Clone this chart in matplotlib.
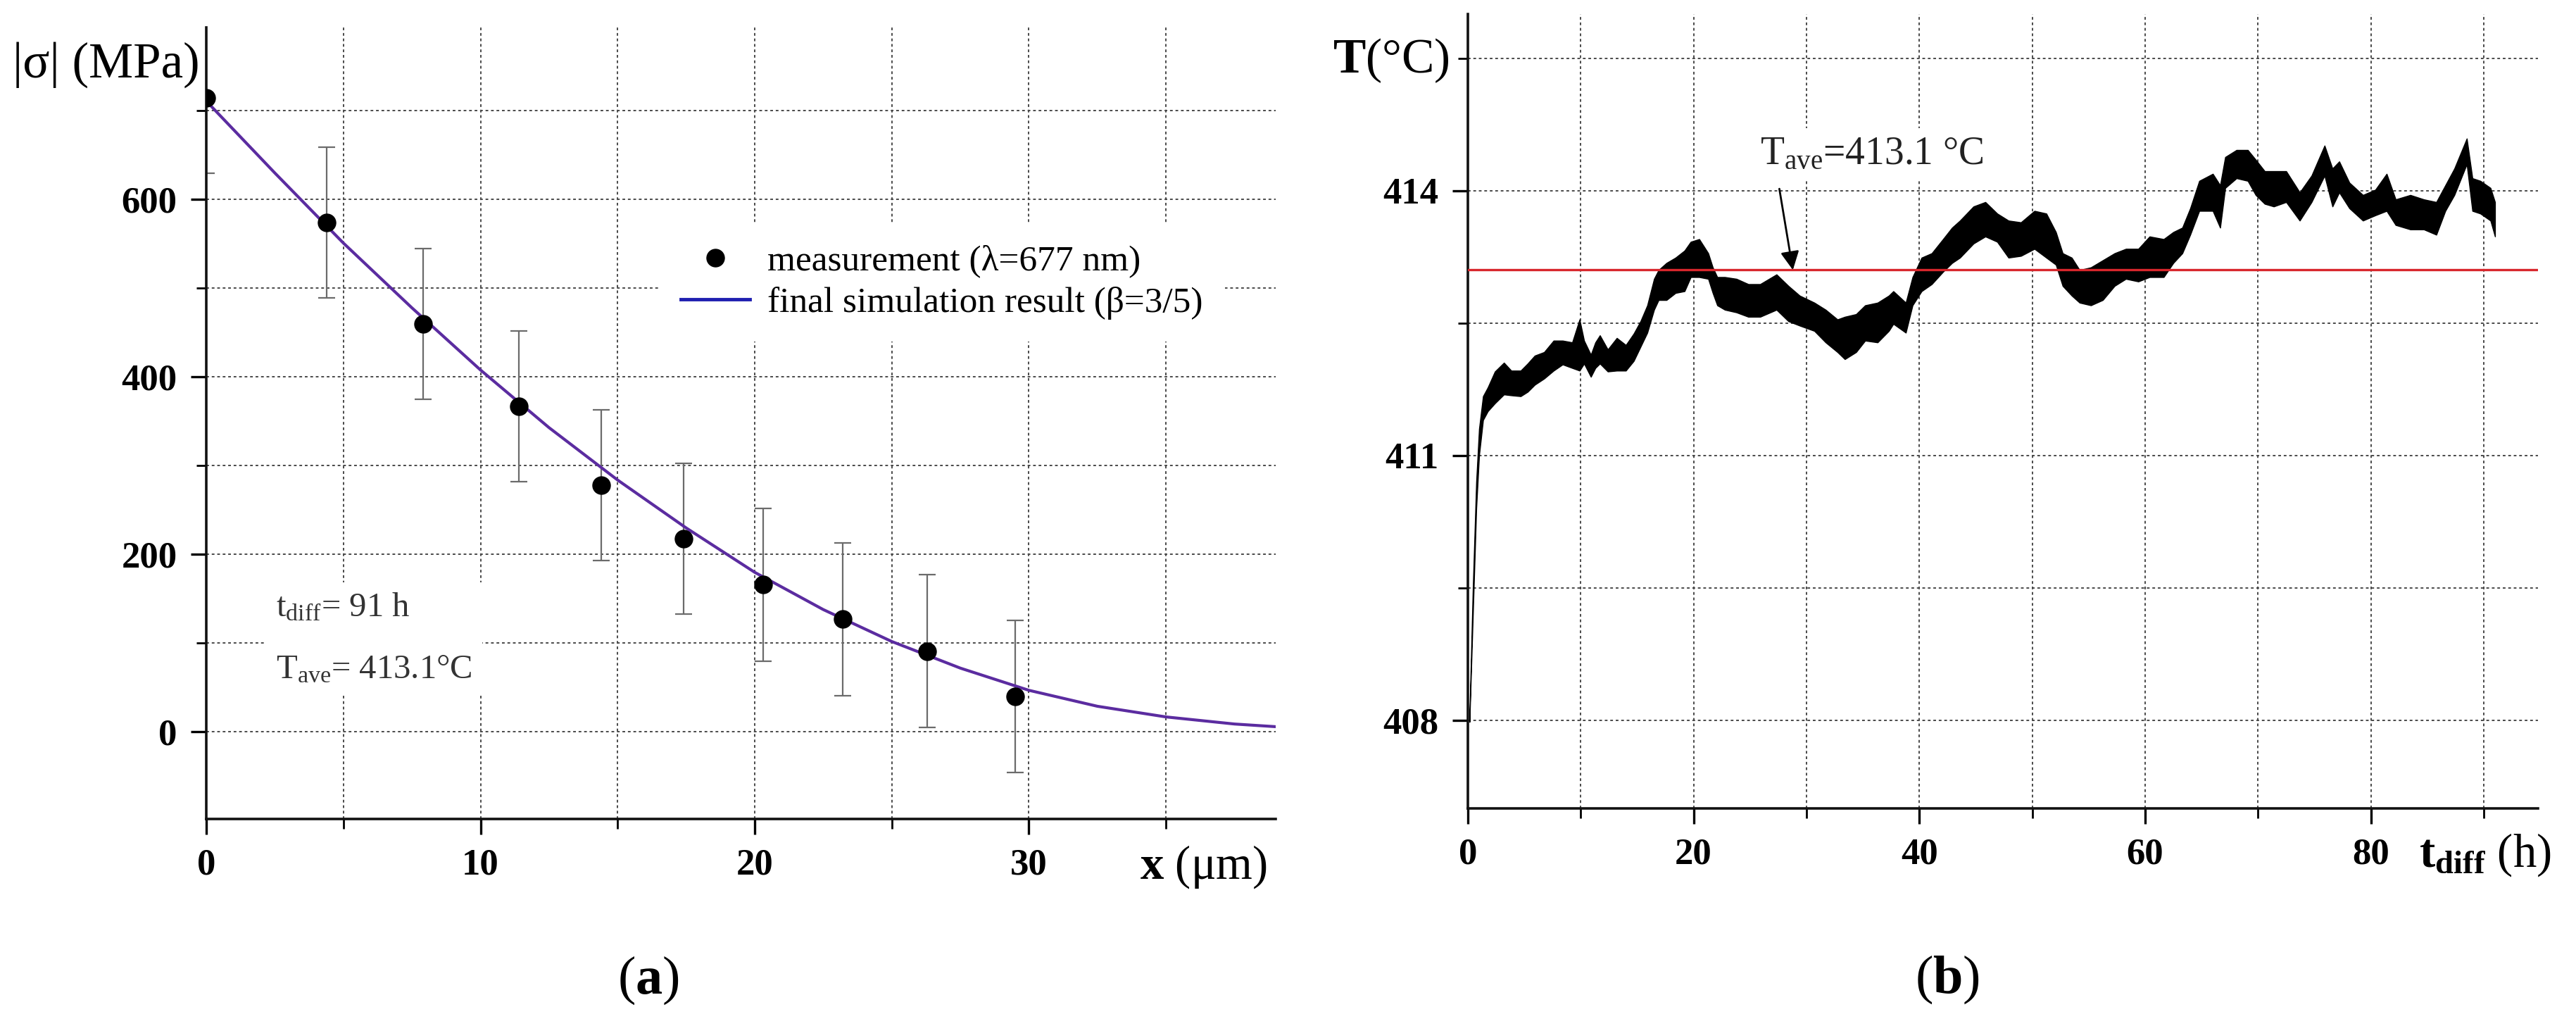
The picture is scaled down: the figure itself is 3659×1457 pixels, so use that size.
import matplotlib

matplotlib.use("Agg")
import matplotlib.pyplot as plt
from matplotlib.lines import Line2D
from matplotlib.ticker import MultipleLocator

# ---- panel (a): residual stress depth profile ----
depth_um = [0, 4.4, 7.9, 11.4, 14.4, 17.4, 20.3, 23.2, 26.3, 29.5]
stress_mpa = [715, 574, 460, 367, 278, 218, 166, 127, 91, 40]
stress_err = [85, 85, 85, 85, 85, 85, 86, 86, 86, 86]

sim_depth_um = [0, 2.5, 5, 7.5, 10, 12.5, 15, 17.5, 20, 22.5, 25, 27.5, 30,
                32.5, 35, 37.5, 39]
sim_stress_mpa = [711, 630, 551, 478, 408, 343, 284, 230, 180, 138, 102, 72,
                  47, 29, 17, 9, 6]

# ---- panel (b): furnace temperature record (upper / lower envelope) ----
time_h = [0.15, 0.45, 0.75, 1.0, 1.35, 1.77, 2.4, 3.2, 3.85, 4.68, 5.3, 5.93,
          6.76, 7.6, 8.4, 9.25, 9.9, 10.3, 10.9, 11.3, 11.7, 12.4, 13.2, 14.0,
          14.7, 15.3, 15.9, 16.5, 16.9, 17.6, 18.4, 19.2, 19.75, 20.5, 21.3,
          21.7, 22.1, 22.77, 23.8, 24.85, 25.9, 27.35, 28.4, 29.4, 30.7, 31.7,
          32.75, 33.4, 34.4, 35.2, 36.3, 37.3, 37.7, 38.8, 39.4, 40.2, 41.1,
          42.1, 42.9, 43.6, 44.8, 45.85, 46.9, 47.9, 49.0, 50.2, 51.25, 52.1,
          52.7, 53.5, 54.2, 55.2, 56.25, 57.3, 58.3, 59.4, 60.4, 61.65, 62.5,
          63.3, 64.0, 64.8, 66.0, 66.65, 67.1, 68.1, 69.1, 69.8, 70.6, 71.4,
          72.5, 73.7, 74.75, 75.9, 76.6, 77.2, 78.1, 79.3, 80.4, 81.4, 82.2,
          83.5, 84.7, 85.8, 86.6, 87.4, 88.5, 89.0, 89.7, 90.6, 91.0]
temp_hi = [408.05, 409.5, 410.7, 411.3, 411.67, 411.77, 411.95, 412.05, 411.96,
           411.96, 412.04, 412.13, 412.17, 412.30, 412.30, 412.28, 412.54,
           412.30, 412.14, 412.28, 412.36, 412.20, 412.33, 412.25, 412.38,
           412.52, 412.70, 413.00, 413.10, 413.18, 413.24, 413.32, 413.42,
           413.45, 413.29, 413.13, 413.02, 413.02, 413.00, 412.94, 412.94,
           413.05, 412.92, 412.81, 412.73, 412.65, 412.54, 412.57, 412.60,
           412.70, 412.73, 412.81, 412.86, 412.73, 413.02, 413.24, 413.29,
           413.45, 413.58, 413.66, 413.82, 413.87, 413.74, 413.66, 413.64,
           413.77, 413.74, 413.53, 413.29, 413.24, 413.10, 413.13, 413.21,
           413.29, 413.34, 413.34, 413.48, 413.45, 413.53, 413.58, 413.80,
           414.11, 414.19, 414.06, 414.38, 414.46, 414.46, 414.35, 414.22,
           414.22, 414.22, 413.98, 414.17, 414.51, 414.25, 414.33, 414.09,
           413.95, 414.01, 414.19, 413.90, 413.95, 413.90, 413.87, 414.06,
           414.25, 414.59, 414.14, 414.11, 414.03, 413.87]
temp_lo = [407.98, 409.2, 410.4, 411.0, 411.40, 411.50, 411.59, 411.69, 411.68,
           411.67, 411.72, 411.80, 411.87, 411.96, 412.03, 411.99, 411.96,
           412.04, 411.89, 411.99, 412.04, 411.95, 411.96, 411.96, 412.07,
           412.23, 412.39, 412.65, 412.76, 412.76, 412.84, 412.86, 413.02,
           413.02, 413.00, 412.84, 412.70, 412.65, 412.62, 412.57, 412.57,
           412.65, 412.52, 412.47, 412.41, 412.28, 412.17, 412.09, 412.17,
           412.30, 412.28, 412.41, 412.49, 412.39, 412.70, 412.86, 412.94,
           413.08, 413.18, 413.24, 413.40, 413.48, 413.42, 413.24, 413.26,
           413.34, 413.24, 413.16, 412.92, 412.81, 412.73, 412.70, 412.76,
           412.92, 413.00, 412.97, 413.02, 413.02, 413.18, 413.29, 413.50,
           413.77, 413.77, 413.58, 414.03, 414.14, 414.11, 413.95, 413.85,
           413.82, 413.87, 413.66, 413.87, 414.17, 413.82, 413.98, 413.80,
           413.66, 413.72, 413.77, 413.61, 413.56, 413.56, 413.50, 413.77,
           413.95, 414.30, 413.77, 413.74, 413.66, 413.48]
temp_ave = 413.1

plt.rcParams["font.family"] = "Liberation Serif"
plt.rcParams["mathtext.fontset"] = "custom"
plt.rcParams["mathtext.rm"] = "Liberation Serif"
plt.rcParams["mathtext.it"] = "Liberation Serif:italic"
plt.rcParams["mathtext.bf"] = "Liberation Serif:bold"

GRID = dict(linestyle=(0, (2, 2)), color="#4a4a4a", linewidth=1.4)


def style_axes(ax):
    ax.spines["top"].set_visible(False)
    ax.spines["right"].set_visible(False)
    for side in ("left", "bottom"):
        ax.spines[side].set_linewidth(2.6)
        ax.spines[side].set_color("#111111")
    ax.set_axisbelow(True)
    ax.grid(True, which="both", **GRID)
    ax.tick_params(which="major", direction="out", length=16, width=2.4,
                   labelsize=38, pad=14)
    ax.tick_params(which="minor", direction="out", length=10, width=2.0)
    for label in ax.get_xticklabels() + ax.get_yticklabels():
        label.set_fontweight("bold")


fig = plt.figure(figsize=(36.59, 14.57), dpi=100)

# ---------------- (a) ----------------
ax1 = fig.add_axes([0.0801, 0.2018, 0.4151, 0.7714])
ax1.errorbar(depth_um, stress_mpa, yerr=stress_err, fmt="none",
             ecolor="#6b6b6b", elinewidth=1.6, capsize=8.5, capthick=1.6,
             zorder=2)
ax1.plot(sim_depth_um, sim_stress_mpa, color="#5b2ca0", linewidth=3.0,
         zorder=3)
ax1.plot(depth_um, stress_mpa, "o", color="black", markersize=18, zorder=4)

ax1.set_xlim(0, 39)
ax1.set_ylim(-98, 794)
ax1.xaxis.set_major_locator(MultipleLocator(10))
ax1.xaxis.set_minor_locator(MultipleLocator(5))
ax1.yaxis.set_major_locator(MultipleLocator(200))
ax1.yaxis.set_minor_locator(MultipleLocator(100))
style_axes(ax1)

ax1.set_ylabel("|σ| (MPa)", rotation=0, fontsize=51, ha="right", va="center")
ax1.yaxis.set_label_coords(-0.006, 0.953)
ax1.set_xlabel(r"$\mathbf{x}$ (μm)", fontsize=48, ha="right", va="center")
ax1.xaxis.set_label_coords(0.992, -0.0605)

handles = [
    Line2D([], [], marker="o", linestyle="none", color="black", markersize=18),
    Line2D([], [], color="#1f1fb0", linewidth=3.5),
]
labels = ["measurement (λ=677 nm)", "final simulation result (β=3/5)"]
leg = ax1.legend(handles, labels, loc="center", bbox_to_anchor=(0.688, 0.678),
                 fontsize=37, frameon=True, framealpha=1, edgecolor="none",
                 facecolor="white", handlelength=1.9, handletextpad=0.5,
                 labelspacing=0.25, borderpad=0.6)

ax1.text(2.55, 105, "t$_{\\rm diff}$= 91 h\n\nT$_{\\rm ave}$= 413.1°C",
         fontsize=35, color="#333333", ha="left", va="center",
         linespacing=1.0,
         bbox=dict(facecolor="white", edgecolor="none", pad=10))

# ---------------- (b) ----------------
ax2 = fig.add_axes([0.5698, 0.2121, 0.4154, 0.7742])
ax2.fill_between(time_h, temp_lo, temp_hi, color="black", linewidth=1.0,
                 edgecolor="black", zorder=3)
ax2.axhline(temp_ave, color="#d8262c", linewidth=2.4, zorder=4)

ax2.set_xlim(0, 94.8)
ax2.set_ylim(407, 416)
ax2.xaxis.set_major_locator(MultipleLocator(20))
ax2.xaxis.set_minor_locator(MultipleLocator(10))
ax2.yaxis.set_major_locator(MultipleLocator(3))
ax2.yaxis.set_minor_locator(MultipleLocator(1.5))
style_axes(ax2)

ax2.set_ylabel(r"$\mathbf{T}$(°C)", rotation=0, fontsize=50, ha="right",
               va="center")
ax2.yaxis.set_label_coords(-0.017, 0.9415)
ax2.set_xlabel(r"$\mathbf{t_{diff}}$ (h)", fontsize=48, ha="right",
               va="center")
ax2.xaxis.set_label_coords(1.0125, -0.0585)

ax2.annotate("", xy=(28.8, temp_ave), xytext=(27.6, 414.02),
             arrowprops=dict(arrowstyle="-|>", color="black", lw=2.0,
                             mutation_scale=40, shrinkA=0, shrinkB=0),
             zorder=5)
ax2.text(25.9, 414.41, "T$_{\\rm ave}$=413.1 °C", fontsize=40,
         color="#222222", ha="left", va="center",
         bbox=dict(facecolor="white", edgecolor="none", pad=8))

fig.text(921 / 3659, 1 - 1392 / 1457, r"($\mathbf{a}$)", fontsize=55,
         ha="center", va="center")
fig.text(2766 / 3659, 1 - 1391 / 1457, r"($\mathbf{b}$)", fontsize=55,
         ha="center", va="center")

fig.savefig("out.png", dpi=100, facecolor="white")
